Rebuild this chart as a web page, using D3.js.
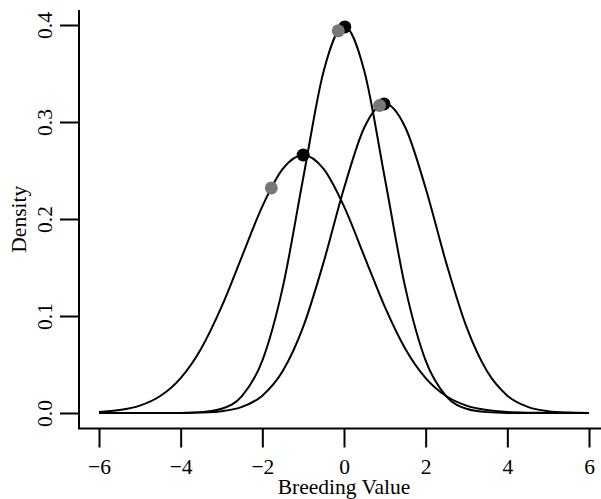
<!DOCTYPE html>
<html>
<head>
<meta charset="utf-8">
<script src="https://cdn.jsdelivr.net/npm/d3@7"></script>
<style>
  body { margin: 0; background: #fff; }
  text { font-family: "Liberation Serif", "Times New Roman", serif; }
</style>
</head>
<body>
<div id="chart"></div>
<script>
// Width and height
var w = 601;
var h = 499;

var xs = [-6, -5.5, -5, -4.5, -4, -3.5, -3, -2.5, -2, -1.5, -1, -0.5, 0,
          0.5, 1, 1.5, 2, 2.5, 3, 3.5, 4, 4.5, 5, 5.5, 6];

// density read at each x, one array per curve
var curveLeft = [0.0010, 0.0030, 0.0076, 0.0175, 0.0360, 0.0663, 0.1094, 0.1613, 0.2130, 0.2516, 0.2660, 0.2516, 0.2130,
                 0.1613, 0.1094, 0.0663, 0.0360, 0.0175, 0.0076, 0.0030, 0.0010, 0.0003, 0.0001, 0.0000, 0.0000];
var curveMid  = [0.0000, 0.0000, 0.0000, 0.0000, 0.0001, 0.0009, 0.0044, 0.0175, 0.0540, 0.1295, 0.2420, 0.3521, 0.3989,
                 0.3521, 0.2420, 0.1295, 0.0540, 0.0175, 0.0044, 0.0009, 0.0001, 0.0000, 0.0000, 0.0000, 0.0000];
var curveRight = [0.0000, 0.0000, 0.0000, 0.0000, 0.0001, 0.0005, 0.0019, 0.0063, 0.0179, 0.0432, 0.0887, 0.1553, 0.2317,
                  0.2946, 0.3191, 0.2946, 0.2317, 0.1553, 0.0887, 0.0432, 0.0179, 0.0063, 0.0019, 0.0005, 0.0001];

// points on top of the curves
var blackX = [-1, 0.02, 0.98];
var blackY = [0.266, 0.398, 0.3186];
var greyX = [-1.78, -0.14, 0.87];
var greyY = [0.232, 0.394, 0.317];

var xTicks = [-6, -4, -2, 0, 2, 4, 6];
var yTicks = [0, 0.1, 0.2, 0.3, 0.4];

var fontSize = 21.5;

var svg = d3.select("#chart")
            .append("svg")
            .attr("width", w)
            .attr("height", h);

var x = d3.scaleLinear().domain([-6, 6]).range([99, 589]);
var y = d3.scaleLinear().domain([0, 0.4]).range([413, 25]);

var plotLeft = 79, plotBottom = 428.5, plotTop = 10;

// L shaped box
svg.append("path")
   .attr("d", "M" + plotLeft + "," + plotTop + "V" + plotBottom + "H" + w)
   .attr("fill", "none")
   .attr("stroke", "#000")
   .attr("stroke-width", 2);

// y axis
var yAxis = svg.append("g")
   .attr("transform", "translate(" + plotLeft + ",0)")
   .call(d3.axisLeft(y).tickValues(yTicks).tickFormat(d3.format(".1f")).tickSize(19).tickSizeOuter(0));
yAxis.select(".domain").remove();
yAxis.selectAll("line").attr("stroke-width", 2);
yAxis.selectAll("text")
     .style("font-size", fontSize + "px")
     .style("font-family", "Liberation Serif")
     .attr("fill", "#000")
     .attr("x", null).attr("dy", null)
     .attr("text-anchor", "middle")
     .attr("transform", "translate(-27,0) rotate(-90)")
     .attr("y", 0);

// x axis
var xAxis = svg.append("g")
   .attr("transform", "translate(0," + plotBottom + ")")
   .call(d3.axisBottom(x).tickValues(xTicks).tickSize(19).tickSizeOuter(0));
xAxis.select(".domain").remove();
xAxis.selectAll("line").attr("stroke-width", 2);
xAxis.selectAll("text")
     .style("font-size", fontSize + "px")
     .style("font-family", "Liberation Serif")
     .attr("fill", "#000")
     .attr("dy", null)
     .attr("y", 45);

// axis titles
svg.append("text")
   .attr("x", x(0)).attr("y", 494)
   .attr("text-anchor", "middle")
   .style("font-size", fontSize + "px")
   .text("Breeding Value");

svg.append("text")
   .attr("transform", "translate(26," + ((plotTop + plotBottom) / 2) + ") rotate(-90)")
   .attr("text-anchor", "middle")
   .style("font-size", fontSize + "px")
   .text("Density");

// curves
var line = d3.line()
   .x(function (d, i) { return x(xs[i]); })
   .y(function (d) { return y(d); })
   .curve(d3.curveMonotoneX);

svg.selectAll("path.curve")
   .data([curveLeft, curveMid, curveRight])
   .enter()
   .append("path")
   .attr("class", "curve")
   .attr("d", line)
   .attr("fill", "none")
   .attr("stroke", "#000")
   .attr("stroke-width", 2);

// black peak points
svg.selectAll("circle.black")
   .data(blackX)
   .enter()
   .append("circle")
   .attr("class", "black")
   .attr("cx", function (d) { return x(d); })
   .attr("cy", function (d, i) { return y(blackY[i]); })
   .attr("r", 6.5)
   .style("fill", "#000");

// grey points
svg.selectAll("circle.grey")
   .data(greyX)
   .enter()
   .append("circle")
   .attr("class", "grey")
   .attr("cx", function (d) { return x(d); })
   .attr("cy", function (d, i) { return y(greyY[i]); })
   .attr("r", 6.5)
   .style("fill", "#777");
</script>
</body>
</html>
